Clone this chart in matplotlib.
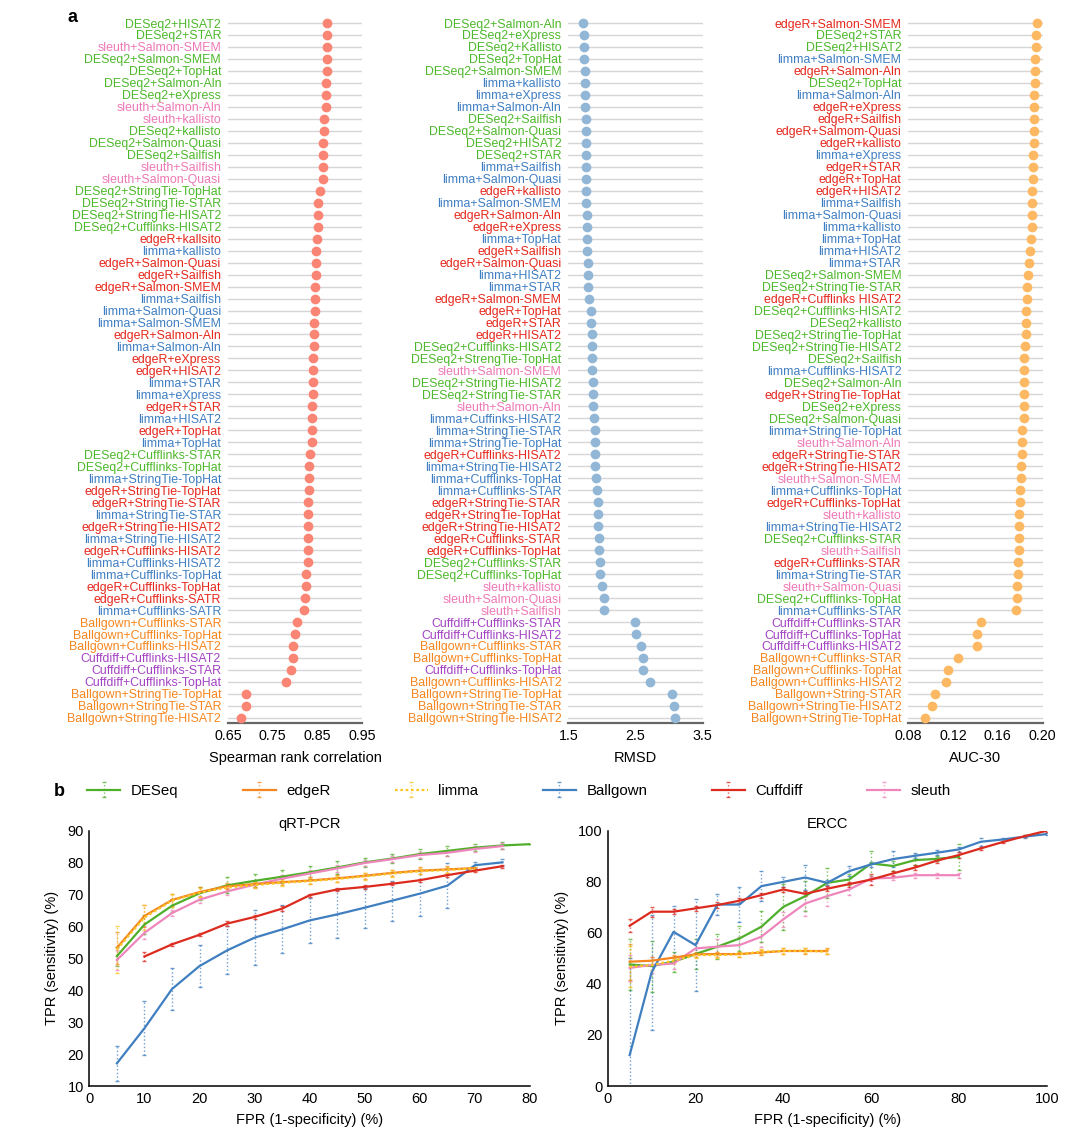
import matplotlib.pyplot as plt

plt.rcParams['font.family'] = ['Liberation Sans', 'DejaVu Sans']

# ====================== a: 三个排序点图的数据 ======================
spearman_labels = [
    "DESeq2+HISAT2", "DESeq2+STAR", "sleuth+Salmon-SMEM", "DESeq2+Salmon-SMEM", "DESeq2+TopHat",
    "DESeq2+Salmon-Aln", "DESeq2+eXpress", "sleuth+Salmon-Aln", "sleuth+kallisto", "DESeq2+kallisto",
    "DESeq2+Salmon-Quasi", "DESeq2+Sailfish", "sleuth+Sailfish", "sleuth+Salmon-Quasi",
    "DESeq2+StringTie-TopHat", "DESeq2+StringTie-STAR", "DESeq2+StringTie-HISAT2", "DESeq2+Cufflinks-HISAT2",
    "edgeR+kallsito", "limma+kallisto", "edgeR+Salmon-Quasi", "edgeR+Sailfish", "edgeR+Salmon-SMEM",
    "limma+Sailfish", "limma+Salmon-Quasi", "limma+Salmon-SMEM", "edgeR+Salmon-Aln", "limma+Salmon-Aln",
    "edgeR+eXpress", "edgeR+HISAT2", "limma+STAR", "limma+eXpress", "edgeR+STAR", "limma+HISAT2",
    "edgeR+TopHat", "limma+TopHat", "DESeq2+Cufflinks-STAR", "DESeq2+Cufflinks-TopHat",
    "limma+StringTie-TopHat", "edgeR+StringTie-TopHat", "edgeR+StringTie-STAR", "limma+StringTie-STAR",
    "edgeR+StringTie-HISAT2", "limma+StringTie-HISAT2", "edgeR+Cufflinks-HISAT2", "limma+Cufflinks-HISAT2",
    "limma+Cufflinks-TopHat", "edgeR+Cufflinks-TopHat", "edgeR+Cufflinks-SATR", "limma+Cufflinks-SATR",
    "Ballgown+Cufflinks-STAR", "Ballgown+Cufflinks-TopHat", "Ballgown+Cufflinks-HISAT2",
    "Cuffdiff+Cufflinks-HISAT2", "Cuffdiff+Cufflinks-STAR", "Cuffdiff+Cufflinks-TopHat",
    "Ballgown+StringTie-TopHat", "Ballgown+StringTie-STAR", "Ballgown+StringTie-HISAT2"]
spearman_values = [
    0.872, 0.872, 0.871, 0.871, 0.870, 0.869, 0.869, 0.869, 0.864, 0.864,
    0.862, 0.862, 0.862, 0.862, 0.855, 0.852, 0.851, 0.851, 0.848, 0.847,
    0.846, 0.846, 0.845, 0.845, 0.844, 0.843, 0.843, 0.842, 0.840, 0.840,
    0.839, 0.839, 0.838, 0.838, 0.838, 0.837, 0.834, 0.832, 0.831, 0.830,
    0.829, 0.829, 0.829, 0.829, 0.829, 0.828, 0.825, 0.825, 0.821, 0.820,
    0.805, 0.800, 0.796, 0.796, 0.791, 0.780, 0.690, 0.690, 0.678]

rmsd_labels = [
    "DESeq2+Salmon-Aln", "DESeq2+eXpress", "DESeq2+Kallisto", "DESeq2+TopHat", "DESeq2+Salmon-SMEM",
    "limma+kallisto", "limma+eXpress", "limma+Salmon-Aln", "DESeq2+Sailfish", "DESeq2+Salmon-Quasi",
    "DESeq2+HISAT2", "DESeq2+STAR", "limma+Sailfish", "limma+Salmon-Quasi", "edgeR+kallisto",
    "limma+Salmon-SMEM", "edgeR+Salmon-Aln", "edgeR+eXpress", "limma+TopHat", "edgeR+Sailfish",
    "edgeR+Salmon-Quasi", "limma+HISAT2", "limma+STAR", "edgeR+Salmon-SMEM", "edgeR+TopHat",
    "edgeR+STAR", "edgeR+HISAT2", "DESeq2+Cufflinks-HISAT2", "DESeq2+StrengTie-TopHat",
    "sleuth+Salmon-SMEM", "DESeq2+StringTie-HISAT2", "DESeq2+StringTie-STAR", "sleuth+Salmon-Aln",
    "limma+Cuffinks-HISAT2", "limma+StringTie-STAR", "limma+StringTie-TopHat", "edgeR+Cufflinks-HISAT2",
    "limma+StringTie-HISAT2", "limma+Cufflinks-TopHat", "limma+Cufflinks-STAR", "edgeR+StringTie-STAR",
    "edgeR+StringTie-TopHat", "edgeR+StringTie-HISAT2", "edgeR+Cufflinks-STAR", "edgeR+Cufflinks-TopHat",
    "DESeq2+Cufflinks-STAR", "DESeq2+Cufflinks-TopHat", "sleuth+kallisto", "sleuth+Salmon-Quasi",
    "sleuth+Sailfish", "Cuffdiff+Cufflinks-STAR", "Cuffdiff+Cufflinks-HISAT2", "Ballgown+Cufflinks-STAR",
    "Ballgown+Cufflinks-TopHat", "Cuffdiff+Cufflinks-TopHat", "Ballgown+Cufflinks-HISAT2",
    "Ballgown+StringTie-TopHat", "Ballgown+StringTie-STAR", "Ballgown+StringTie-HISAT2"]
rmsd_values = [
    1.712, 1.727, 1.732, 1.737, 1.742, 1.742, 1.747, 1.752, 1.757, 1.757,
    1.757, 1.757, 1.762, 1.762, 1.762, 1.767, 1.781, 1.781, 1.781, 1.781,
    1.786, 1.791, 1.791, 1.806, 1.836, 1.841, 1.846, 1.851, 1.856, 1.860,
    1.865, 1.865, 1.870, 1.880, 1.890, 1.890, 1.900, 1.900, 1.910, 1.925,
    1.935, 1.940, 1.944, 1.959, 1.964, 1.979, 1.979, 2.004, 2.038, 2.038,
    2.488, 2.502, 2.577, 2.606, 2.606, 2.715, 3.041, 3.070, 3.090]

auc_labels = [
    "edgeR+Salmon-SMEM", "DESeq2+STAR", "DESeq2+HISAT2", "limma+Salmon-SMEM", "edgeR+Salmon-Aln",
    "DESeq2+TopHat", "limma+Salmon-Aln", "edgeR+eXpress", "edgeR+Sailfish", "edgeR+Salmom-Quasi",
    "edgeR+kallisto", "limma+eXpress", "edgeR+STAR", "edgeR+TopHat", "edgeR+HISAT2",
    "limma+Sailfish", "limma+Salmon-Quasi", "limma+kallisto", "limma+TopHat", "limma+HISAT2",
    "limma+STAR", "DESeq2+Salmon-SMEM", "DESeq2+StringTie-STAR", "edgeR+Cufflinks HISAT2",
    "DESeq2+Cufflinks-HISAT2", "DESeq2+kallisto", "DESeq2+StringTie-TopHat", "DESeq2+StringTie-HISAT2",
    "DESeq2+Sailfish", "limma+Cufflinks-HISAT2", "DESeq2+Salmon-Aln", "edgeR+StringTie-TopHat",
    "DESeq2+eXpress", "DESeq2+Salmon-Quasi", "limma+StringTie-TopHat", "sleuth+Salmon-Aln",
    "edgeR+StringTie-STAR", "edgeR+StringTie-HISAT2", "sleuth+Salmon-SMEM", "limma+Cufflinks-TopHat",
    "edgeR+Cufflinks-TopHat", "sleuth+kallisto", "limma+StringTie-HISAT2", "DESeq2+Cufflinks-STAR",
    "sleuth+Sailfish", "edgeR+Cufflinks-STAR", "limma+StringTie-STAR", "sleuth+Salmon-Quasi",
    "DESeq2+Cufflinks-TopHat", "limma+Cufflinks-STAR", "Cuffdiff+Cufflinks-STAR",
    "Cuffdiff+Cufflinks-TopHat", "Cuffdiff+Cufflinks-HISAT2", "Ballgown+Cufflinks-STAR",
    "Ballgown+Cufflinks-TopHat", "Ballgown+Cufflinks-HISAT2", "Ballgown+String-STAR",
    "Ballgown+StringTie-HISAT2", "Ballgown+StringTie-TopHat"]
auc_values = [
    0.1947, 0.1941, 0.1938, 0.1935, 0.1935, 0.1935, 0.1926, 0.1923, 0.1923, 0.1920,
    0.1920, 0.1917, 0.1911, 0.1911, 0.1908, 0.1902, 0.1902, 0.1902, 0.1899, 0.1884,
    0.1882, 0.1867, 0.1858, 0.1858, 0.1855, 0.1849, 0.1849, 0.1846, 0.1837, 0.1834,
    0.1834, 0.1834, 0.1834, 0.1831, 0.1819, 0.1819, 0.1813, 0.1810, 0.1807, 0.1802,
    0.1802, 0.1793, 0.1790, 0.1787, 0.1787, 0.1784, 0.1778, 0.1775, 0.1772, 0.1763,
    0.1449, 0.1416, 0.1416, 0.1247, 0.1156, 0.1141, 0.1040, 0.1010, 0.0951]

label_colors = {"DESeq2": "#4DB82B", "edgeR": "#E5281C", "limma": "#3F7EC2",
                "sleuth": "#EE78B5", "Ballgown": "#F7861E", "Cuffdiff": "#A443C2"}

# ====================== b: ROC 曲线数据 ======================
fpr = [5, 10, 15, 20, 25, 30, 35, 40, 45, 50, 55, 60, 65, 70, 75, 80, 85, 90, 95, 100]

qpcr_deseq = [50.7, 60.6, 66.5, 70.4, 72.9, 74.3, 75.6, 77.0, 78.5, 80.1, 81.3, 82.7, 83.7, 84.7, 85.4, 85.8]
qpcr_deseq_err = [3, 3, 2, 2, 2.5, 2, 2, 2, 2, 1.5, 1.5, 1.5, 1.5, 1, 1, 0]
qpcr_edger = [53.3, 63.3, 68.3, 70.8, 72.6, 73.3, 73.9, 74.4, 75.1, 75.9, 76.8, 77.5, 77.9, 78.3]
qpcr_edger_err = [5, 3.5, 2, 1.5, 1, 1, 1, 1, 1, 1, 1, 1, 1, 0.5]
qpcr_limma = [52.8, 62.8, 68.1, 70.6, 72.2, 73.0, 73.7, 74.2, 74.9, 75.7, 76.6, 77.3, 77.7, 78.2]
qpcr_limma_err = [7.5, 4, 2, 1.5, 1, 1, 1, 1, 1, 1, 1, 1, 1, 0.5]
qpcr_ballgown = [17.1, 28.1, 40.4, 47.6, 52.5, 56.5, 59.1, 61.9, 63.8, 65.9, 68.1, 70.3, 72.8, 79.2, 80.1]
qpcr_ballgown_err = [5.5, 8.5, 6.7, 6.5, 7.5, 8.7, 7.5, 7, 7.5, 6.3, 6.3, 7, 7, 1, 1]
qpcr_cuffdiff = [50.6, 54.4, 57.4, 60.9, 63.0, 65.6, 69.8, 71.6, 72.4, 73.4, 74.5, 76.1, 77.5, 78.9]
qpcr_cuffdiff_err = [1.5, 0.5, 0.5, 0.8, 0.5, 0.8, 0.5, 0.5, 0.5, 0.5, 0.5, 0.5, 0.5, 0.5]
qpcr_sleuth = [49.5, 58.0, 64.2, 68.4, 71.0, 73.1, 75.0, 76.6, 78.2, 79.9, 81.1, 82.4, 83.1, 84.3, 85.2]
qpcr_sleuth_err = [3, 2, 1, 1, 1, 1, 1, 1, 1, 1, 1, 1, 1, 1, 1]

ercc_deseq = [47.6, 47.0, 48.7, 51.7, 54.6, 57.8, 62.4, 70.2, 74.4, 79.6, 80.9, 87.2, 86.2, 88.5, 89.0, 89.8]
ercc_deseq_err = [10, 10, 4, 6, 5, 5, 6, 9, 6, 6, 2, 5, 2, 2, 1, 5]
ercc_edger = [48.7, 49.1, 50.3, 51.6, 51.7, 51.7, 52.3, 52.9, 52.9, 52.9]
ercc_edger_err = [7, 1.5, 1, 1, 1, 1, 1, 1, 1, 1]
ercc_limma = [46.7, 47.4, 49.1, 51.3, 51.3, 51.6, 52.6, 52.9, 53.0, 52.6]
ercc_limma_err = [8, 2, 1, 1, 1, 1, 1, 1, 1, 1]
ercc_ballgown = [12.1, 44.5, 60.4, 55.2, 71.1, 71.1, 78.3, 80.0, 81.7, 79.6,
                 84.2, 86.8, 88.9, 90.2, 91.4, 92.7, 95.7, 96.6, 97.7, 98.7]
ercc_ballgown_err = [38, 22.5, 10, 18, 4, 7, 6, 2, 5, 1, 2, 1, 3, 1, 1, 1, 1.5, 0.5, 0.5, 0.5]
ercc_cuffdiff = [62.8, 68.3, 68.3, 69.6, 70.9, 72.6, 74.8, 77.0, 75.3, 77.3,
                 79.1, 80.9, 83.3, 85.6, 88.3, 90.5, 93.1, 95.6, 97.9, 100.0]
ercc_cuffdiff_err = [2.5, 2, 1, 1, 1, 1, 1, 1, 1, 1, 1, 2, 1, 1, 1, 1, 0.5, 0.5, 0.5, 0.5]
ercc_sleuth = [46.3, 47.4, 48.0, 53.9, 54.6, 55.2, 58.5, 65.3, 71.5, 74.4, 77.0, 81.3, 81.6, 82.6, 82.6, 82.6]
ercc_sleuth_err = [5, 3, 2, 2, 3, 3, 4, 3, 5, 4, 2, 1, 1, 1, 1, 1]

line_colors = {"DESeq": "#4FAF2A", "edgeR": "#F5861F", "limma": "#F9C623",
               "Ballgown": "#3F7FC0", "Cuffdiff": "#DC2A1E", "sleuth": "#EE86BC"}

fig = plt.figure(figsize=(10.79, 11.34), dpi=100)

# ====================== a: 排序点图 ======================
panels = [
    (spearman_labels, spearman_values, "#FA8575", (0.65, 0.95), [0.65, 0.75, 0.85, 0.95],
     ["0.65", "0.75", "0.85", "0.95"], "Spearman rank correlation", 0.2113),
    (rmsd_labels, rmsd_values, "#92B6D5", (1.5, 3.5), [1.5, 2.5, 3.5],
     ["1.5", "2.5", "3.5"], "RMSD", 0.5267),
    (auc_labels, auc_values, "#FDB863", (0.08, 0.20), [0.08, 0.12, 0.16, 0.20],
     ["0.08", "0.12", "0.16", "0.20"], "AUC-30", 0.8418),
]
for labels, values, dot_c, xlim, xt, xtl, xlab, left in panels:
    ax = fig.add_axes([left, 0.3622, 0.1245, 0.6228])
    rows = list(range(len(labels)))
    ax.scatter(values, rows, s=36, color=dot_c, zorder=3, clip_on=False)
    ax.set_xlim(*xlim)
    ax.set_ylim(len(labels) - 0.55, -0.5)
    ax.set_yticks(rows)
    ax.set_yticklabels(labels, fontsize=8.9)
    for t, lab in zip(ax.get_yticklabels(), labels):
        t.set_color(label_colors[lab.split("+")[0]])
    ax.set_xticks(xt)
    ax.set_xticklabels(xtl, fontsize=10.3)
    ax.tick_params(axis="both", length=0)
    ax.tick_params(axis="y", pad=5)
    ax.tick_params(axis="x", pad=4)
    ax.grid(axis="y", color="#d6d6d6", lw=1.0)
    ax.set_axisbelow(True)
    for s in ["top", "left", "right"]:
        ax.spines[s].set_visible(False)
    ax.spines["bottom"].set_color("#666666")
    ax.spines["bottom"].set_linewidth(1.6)
    ax.set_xlabel(xlab, fontsize=10.5, labelpad=6)

fig.text(73 / 1079, 1 - 17 / 1134, "a", fontsize=13, fontweight="bold", ha="center", va="center")
fig.text(59 / 1079, 1 - 791 / 1134, "b", fontsize=13, fontweight="bold", ha="center", va="center")


# ====================== b: ROC 曲线 ======================
def draw_curve(ax, x, y, err, name, ls="-"):
    c = line_colors[name]
    eb = ax.errorbar(x, y, yerr=err, color=c, lw=1.6, ls=ls, ecolor=c, elinewidth=1.0,
                     capsize=1.5, capthick=1.0, label=name)
    for lc in eb[2]:
        lc.set_linestyle(":")
        lc.set_alpha(0.75)
    for cap in eb[1]:
        cap.set_alpha(0.75)
    return eb


def style_roc(ax, xlim, ylim, xt, yt, title):
    ax.set_xlim(*xlim)
    ax.set_ylim(*ylim)
    ax.set_xticks(xt)
    ax.set_yticks(yt)
    ax.tick_params(length=0, labelsize=10.5, pad=4)
    for s in ["top", "right"]:
        ax.spines[s].set_visible(False)
    ax.spines["left"].set_linewidth(1.1)
    ax.spines["bottom"].set_linewidth(1.1)
    ax.set_title(title, fontsize=10.5, pad=2)
    ax.set_xlabel("FPR (1-specificity) (%)", fontsize=10.5, labelpad=5)
    ax.set_ylabel("TPR (sensitivity) (%)", fontsize=10.5, labelpad=6)


ax1 = fig.add_axes([0.0828, 0.0423, 0.4084, 0.2251])
h_bg = draw_curve(ax1, fpr[:15], qpcr_ballgown, qpcr_ballgown_err, "Ballgown")
h_cd = draw_curve(ax1, fpr[1:15], qpcr_cuffdiff, qpcr_cuffdiff_err, "Cuffdiff")
h_de = draw_curve(ax1, fpr[:16], qpcr_deseq, qpcr_deseq_err, "DESeq")
h_sl = draw_curve(ax1, fpr[:15], qpcr_sleuth, qpcr_sleuth_err, "sleuth")
h_ed = draw_curve(ax1, fpr[:14], qpcr_edger, qpcr_edger_err, "edgeR")
h_li = draw_curve(ax1, fpr[:14], qpcr_limma, qpcr_limma_err, "limma", ls=(0, (1.2, 1.2)))
style_roc(ax1, (0, 80), (10, 90), range(0, 81, 10), range(10, 91, 10), "qRT-PCR")

ax2 = fig.add_axes([0.5632, 0.0423, 0.4069, 0.2251])
draw_curve(ax2, fpr[:16], ercc_deseq, ercc_deseq_err, "DESeq")
draw_curve(ax2, fpr[:16], ercc_sleuth, ercc_sleuth_err, "sleuth")
draw_curve(ax2, fpr[:20], ercc_ballgown, ercc_ballgown_err, "Ballgown")
draw_curve(ax2, fpr[:20], ercc_cuffdiff, ercc_cuffdiff_err, "Cuffdiff")
draw_curve(ax2, fpr[:10], ercc_edger, ercc_edger_err, "edgeR")
draw_curve(ax2, fpr[:10], ercc_limma, ercc_limma_err, "limma", ls=(0, (1.2, 1.2)))
style_roc(ax2, (0, 100), (0, 100), range(0, 101, 20), range(0, 101, 20), "ERCC")

fig.legend([h_de, h_ed, h_li, h_bg, h_cd, h_sl], ["DESeq", "edgeR", "limma", "Ballgown", "Cuffdiff", "sleuth"],
           loc="center left", bbox_to_anchor=(81 / 1079, 1 - 791 / 1134), ncol=6, frameon=False,
           fontsize=10.8, handlelength=2.2, handletextpad=0.7, columnspacing=4.3, borderaxespad=0)

fig.savefig("out.png", dpi=100)
